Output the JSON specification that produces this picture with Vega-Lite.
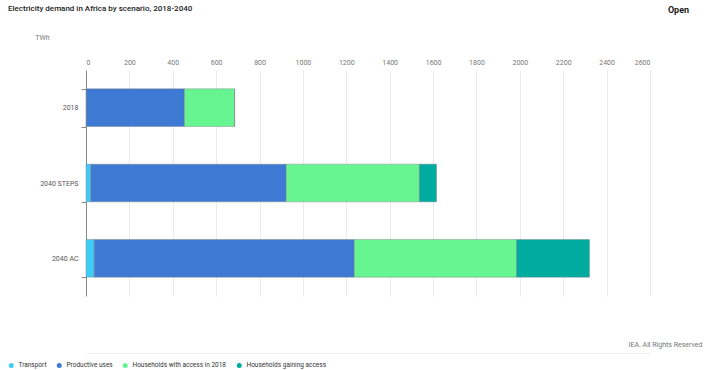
{
  "$schema": "https://vega.github.io/schema/vega-lite/v6.json",
  "autosize": "none",
  "width": 564,
  "height": 226,
  "padding": {"left": 86, "top": 70, "right": 60, "bottom": 74},
  "background": "white",
  "title": {
    "text": "Electricity demand in Africa by scenario, 2018-2040",
    "anchor": "start",
    "frame": "group",
    "dx": -78,
    "dy": 12,
    "font": "Roboto",
    "fontSize": 8,
    "fontWeight": 500,
    "color": "#222222"
  },
  "config": {
    "view": {"stroke": null},
    "font": "Roboto"
  },
  "data": {
    "values": [
      {"scenario": "2018", "category": "Transport", "k": 1, "value": 2},
      {"scenario": "2018", "category": "Productive uses", "k": 2, "value": 452},
      {"scenario": "2018", "category": "Households with access in 2018", "k": 3, "value": 231},
      {"scenario": "2018", "category": "Households gaining access", "k": 4, "value": 0},
      {"scenario": "2040 STEPS", "category": "Transport", "k": 1, "value": 22},
      {"scenario": "2040 STEPS", "category": "Productive uses", "k": 2, "value": 901},
      {"scenario": "2040 STEPS", "category": "Households with access in 2018", "k": 3, "value": 614},
      {"scenario": "2040 STEPS", "category": "Households gaining access", "k": 4, "value": 79},
      {"scenario": "2040 AC", "category": "Transport", "k": 1, "value": 38},
      {"scenario": "2040 AC", "category": "Productive uses", "k": 2, "value": 1199},
      {"scenario": "2040 AC", "category": "Households with access in 2018", "k": 3, "value": 748},
      {"scenario": "2040 AC", "category": "Households gaining access", "k": 4, "value": 336}
    ]
  },
  "layer": [
    {
      "mark": {"type": "bar", "stroke": "#7f7f7f", "strokeOpacity": 0.6, "strokeWidth": 0.7},
      "encoding": {
        "y": {
          "field": "scenario",
          "type": "nominal",
          "sort": ["2018", "2040 STEPS", "2040 AC"],
          "scale": {"paddingInner": 0.5, "paddingOuter": 0.25},
          "axis": {
            "title": null,
            "domainColor": "#888888",
            "tickColor": "#888888",
            "tickSize": 5,
            "tickBand": "extent",
            "labelPadding": 3,
            "labelFontSize": 7,
            "labelColor": "#555555",
            "labelFont": "Roboto"
          }
        },
        "x": {
          "field": "value",
          "type": "quantitative",
          "stack": "zero",
          "scale": {"domain": [0, 2600], "nice": false},
          "axis": {
            "orient": "top",
            "values": [0, 200, 400, 600, 800, 1000, 1200, 1400, 1600, 1800, 2000, 2200, 2400, 2600],
            "format": "d",
            "domain": false,
            "ticks": false,
            "gridColor": "#ebebeb",
            "labelFontSize": 7,
            "labelColor": "#777777",
            "labelPadding": 5,
            "labelFont": "Roboto",
            "title": "TWh",
            "titleFontSize": 7,
            "titleFontWeight": "normal",
            "titleColor": "#777777",
            "titleX": -44,
            "titleY": -30,
            "titleAlign": "center"
          }
        },
        "color": {
          "field": "category",
          "type": "nominal",
          "scale": {
            "domain": ["Transport", "Productive uses", "Households with access in 2018", "Households gaining access"],
            "range": ["#3fcdf5", "#3e79d3", "#66f591", "#00ab9f"]
          },
          "legend": {
            "orient": "none",
            "legendX": -78,
            "legendY": 292,
            "direction": "horizontal",
            "title": null,
            "symbolType": "circle",
            "symbolSize": 25,
            "symbolStrokeWidth": 0,
            "labelFontSize": 6.5,
            "labelColor": "#333333",
            "labelFont": "Roboto",
            "columnPadding": 9,
            "labelOffset": 4
          }
        },
        "order": {"field": "k", "type": "quantitative"}
      }
    },
    {
      "mark": {"type": "bar", "opacity": 0},
      "encoding": {
        "y": {
          "field": "scenario",
          "type": "nominal",
          "sort": ["2018", "2040 STEPS", "2040 AC"],
          "axis": {
            "orient": "right",
            "labels": false,
            "ticks": false,
            "domain": false,
            "title": "Open",
            "titleAngle": 0,
            "titleX": 28,
            "titleY": -56,
            "titleAlign": "center",
            "titleFont": "Roboto",
            "titleFontSize": 9,
            "titleFontWeight": "bold",
            "titleColor": "#222222"
          }
        },
        "x": {
          "field": "value",
          "type": "quantitative",
          "stack": "zero",
          "axis": {
            "orient": "bottom",
            "labels": false,
            "ticks": false,
            "grid": false,
            "domain": true,
            "domainColor": "#eeeeee",
            "offset": 57,
            "title": "IEA. All Rights Reserved",
            "titleX": 616,
            "titleY": -13,
            "titleAlign": "right",
            "titleFont": "Roboto",
            "titleFontSize": 7,
            "titleFontWeight": "normal",
            "titleColor": "#777777"
          }
        }
      }
    }
  ],
  "resolve": {"axis": {"x": "independent", "y": "independent"}}
}
